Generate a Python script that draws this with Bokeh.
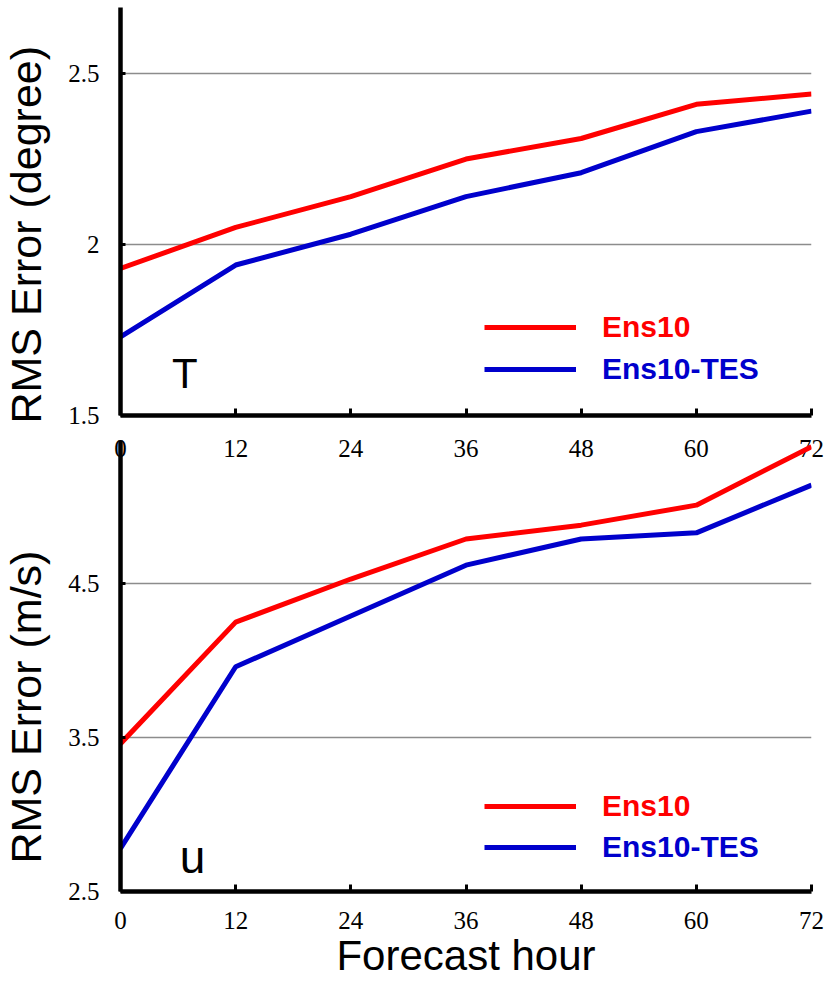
from bokeh.plotting import figure
from bokeh.models import Range1d, FixedTicker, Title, Label, Legend, LegendItem
from bokeh.layouts import column
from bokeh.embed import file_html
from bokeh.resources import INLINE

# ---- data ----
hours = [0, 12, 24, 36, 48, 60, 72]
t_ens10 = [1.93, 2.05, 2.14, 2.25, 2.31, 2.41, 2.44]
t_ens10_tes = [1.73, 1.94, 2.03, 2.14, 2.21, 2.33, 2.39]
u_ens10 = [3.46, 4.25, 4.53, 4.79, 4.88, 5.01, 5.39]
u_ens10_tes = [2.78, 3.96, 4.29, 4.62, 4.79, 4.83, 5.14]
x_ticks = [0, 12, 24, 36, 48, 60, 72]
t_ticks = [1.5, 2, 2.5]
u_ticks = [2.5, 3.5, 4.5]
series_names = ["Ens10", "Ens10-TES"]
series_colors = ["#ff0000", "#0000cc"]

SANS = "Liberation Sans"
SERIF = "Liberation Serif"


def style_axes(p, yticks, grid_ticks):
    p.outline_line_color = None
    p.xgrid.visible = False
    p.ygrid.ticker = FixedTicker(ticks=grid_ticks)
    p.ygrid.grid_line_color = "#8c8c8c"
    p.ygrid.grid_line_width = 1.5
    p.xaxis.ticker = FixedTicker(ticks=x_ticks)
    p.yaxis.ticker = FixedTicker(ticks=yticks)
    p.yaxis.major_label_overrides = {2: "2"}
    for ax in (p.xaxis[0], p.yaxis[0]):
        ax.axis_line_width = 4.5
        ax.axis_line_color = "black"
        ax.major_tick_line_width = 3
        ax.major_tick_line_color = "black"
        ax.major_tick_out = 0
        ax.minor_tick_line_color = None
        ax.major_label_text_font = SERIF
        ax.major_label_text_font_size = "25px"
        ax.major_label_text_color = "black"
    p.xaxis.major_tick_in = 7
    p.yaxis.major_tick_in = 5
    p.yaxis.major_label_standoff = 21


def add_legends(p, renderers, y_positions):
    for r, name, col, ypos in zip(renderers, series_names, series_colors, y_positions):
        lg = Legend(items=[LegendItem(label=name, renderers=[r])], location=(364, ypos),
                    border_line_color=None, background_fill_alpha=0, padding=0, margin=0,
                    spacing=0, glyph_width=92, glyph_height=36, label_height=36,
                    label_standoff=26, label_text_font=SANS, label_text_font_style="bold",
                    label_text_font_size="30px", label_text_color=col)
        p.add_layout(lg)


def add_ytitle(p, text, offset):
    p.add_layout(Title(text=text, align="left", offset=offset, standoff=32,
                       text_font=SANS, text_font_size="43px", text_font_style="normal",
                       text_color="black"), "left")


# ---- top panel: T ----
p1 = figure(width=845, height=470, x_range=Range1d(0, 72), y_range=Range1d(1.5, 2.693),
            output_backend="svg", toolbar_location=None,
            min_border_left=140, min_border_right=14, min_border_top=7, min_border_bottom=55)
style_axes(p1, t_ticks, [2, 2.5])
p1.xaxis.major_label_standoff = 24
r1 = p1.line(hours, t_ens10, line_color=series_colors[0], line_width=5)
r2 = p1.line(hours, t_ens10_tes, line_color=series_colors[1], line_width=5)
add_legends(p1, [r1, r2], [70, 28])
add_ytitle(p1, "RMS Error (degree)", -8)
p1.add_layout(Label(x=6.7, y=1.623, text="T", text_align="center", text_baseline="alphabetic",
                    text_font=SANS, text_font_size="42px", text_color="black"))

# ---- bottom panel: u ----
p2 = figure(width=845, height=545, x_range=Range1d(0, 72), y_range=Range1d(2.5, 5.43),
            output_backend="svg", toolbar_location=None,
            min_border_left=140, min_border_right=14, min_border_top=0, min_border_bottom=94,
            margin=(-30, 0, 0, 0))
p2.border_fill_alpha = 0
p2.background_fill_alpha = 0
style_axes(p2, u_ticks, [3.5, 4.5])
p2.xaxis.major_label_standoff = 20
p2.xaxis.axis_label = "Forecast hour"
p2.xaxis.axis_label_standoff = 0
p2.xaxis.axis_label_text_font = SANS
p2.xaxis.axis_label_text_font_size = "42px"
p2.xaxis.axis_label_text_font_style = "normal"
p2.xaxis.axis_label_text_color = "black"
r3 = p2.line(hours, u_ens10, line_color=series_colors[0], line_width=5)
r4 = p2.line(hours, u_ens10_tes, line_color=series_colors[1], line_width=5)
add_legends(p2, [r3, r4], [67, 26])
add_ytitle(p2, "RMS Error (m/s)", 28)
p2.add_layout(Label(x=7.5, y=2.721, text="u", text_align="center", text_baseline="alphabetic",
                    text_font=SANS, text_font_size="46px", text_color="black"))

layout = column(p1, p2, spacing=0, margin=(0, 0, 0, -20))
open("out.html", "w").write(file_html(layout, INLINE))
